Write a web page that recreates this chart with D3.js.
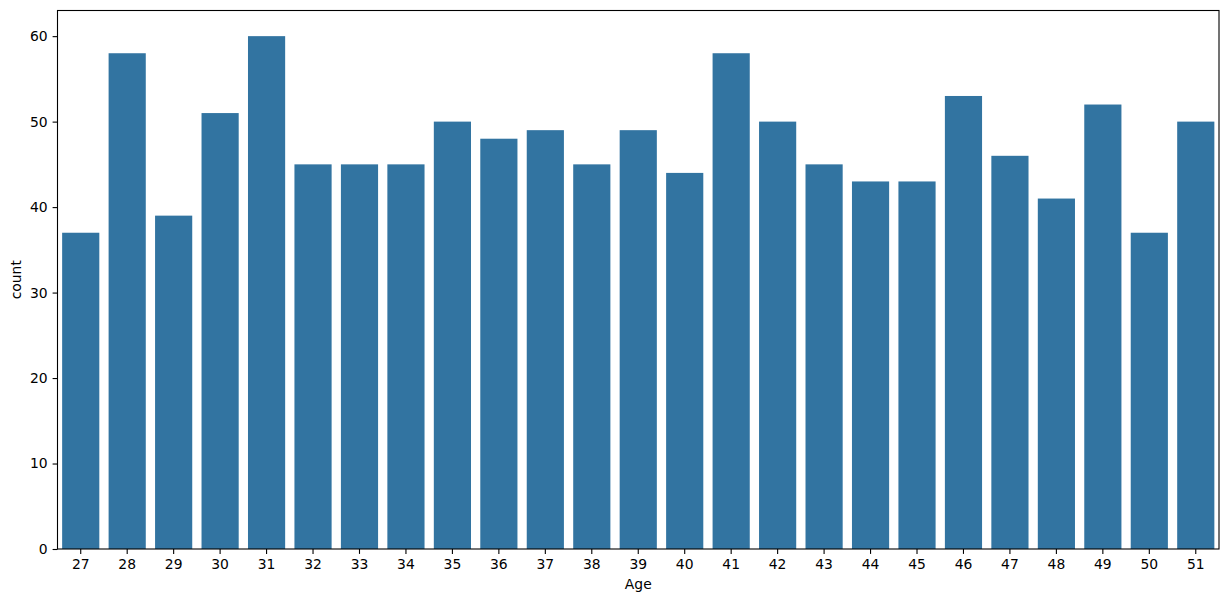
<!DOCTYPE html>
<html>
<head>
<meta charset="utf-8">
<script src="https://d3js.org/d3.v7.min.js"></script>
<style>
  body { margin: 0; background: #fff; }
  text { font-family: "DejaVu Sans", sans-serif; }
</style>
</head>
<body>
<div id="chart"></div>
<script>
// Age categories and their counts
const ages = ["27","28","29","30","31","32","33","34","35","36","37","38","39","40","41","42","43","44","45","46","47","48","49","50","51"];
const counts = [37, 58, 39, 51, 60, 45, 45, 45, 50, 48, 49, 45, 49, 44, 58, 50, 45, 43, 43, 53, 46, 41, 52, 37, 50];
const yTicks = [0, 10, 20, 30, 40, 50, 60];

const width = 1229;
const height = 602;
const margin = { top: 10.5, right: 10, bottom: 53, left: 57.5 };
const innerW = width - margin.left - margin.right;
const innerH = height - margin.top - margin.bottom;

const svg = d3.select("#chart")
  .append("svg")
  .attr("width", width)
  .attr("height", height);

const g = svg.append("g")
  .attr("transform", `translate(${margin.left},${margin.top})`);

const x = d3.scaleBand()
  .domain(ages)
  .range([0, innerW])
  .paddingInner(0.2)
  .paddingOuter(0.1);

const y = d3.scaleLinear()
  .domain([0, 63])
  .range([innerH, 0]);

// bars
g.selectAll(".bar")
  .data(ages.map((a, i) => ({ age: a, count: counts[i] })))
  .enter()
  .append("rect")
  .attr("class", "bar")
  .attr("x", d => x(d.age))
  .attr("y", d => y(d.count))
  .attr("width", x.bandwidth())
  .attr("height", d => innerH - y(d.count))
  .attr("fill", "#3274a1");

// axes
const xAxis = g.append("g")
  .attr("transform", `translate(0,${innerH})`)
  .call(d3.axisBottom(x).tickSize(4.9).tickPadding(4.9).tickSizeOuter(0));

const yAxis = g.append("g")
  .call(d3.axisLeft(y).tickValues(yTicks).tickSize(4.9).tickPadding(4.9).tickSizeOuter(0));

[xAxis, yAxis].forEach(a => {
  a.select(".domain").remove();
  a.selectAll("line").attr("stroke", "#000").attr("stroke-width", 1.1);
  a.selectAll("text").attr("fill", "#000").style("font-size", "13.9px").style("font-family", "DejaVu Sans");
});

// frame
g.append("rect")
  .attr("width", innerW)
  .attr("height", innerH)
  .attr("fill", "none")
  .attr("stroke", "#000")
  .attr("stroke-width", 1.1);

// axis labels
svg.append("text")
  .attr("x", margin.left + innerW / 2)
  .attr("y", 589)
  .attr("text-anchor", "middle")
  .style("font-size", "13.9px")
  .text("Age");

svg.append("text")
  .attr("transform", `translate(21,${margin.top + innerH / 2}) rotate(-90)`)
  .attr("text-anchor", "middle")
  .style("font-size", "13.9px")
  .text("count");
</script>
</body>
</html>
